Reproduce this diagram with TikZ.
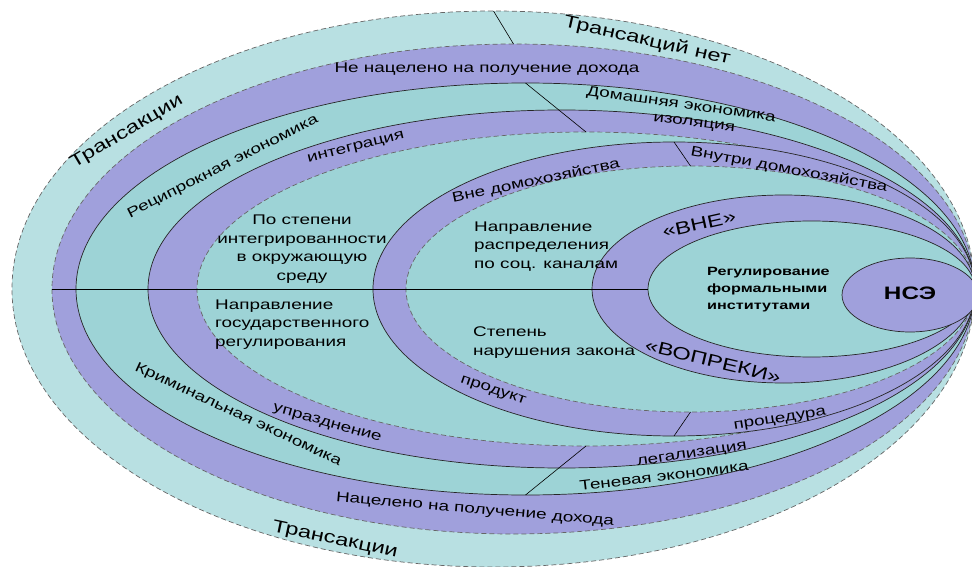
\documentclass[tikz,border=0pt]{standalone}
\usepackage{fontspec}
\setmainfont[FakeStretch=1.35]{Liberation Sans}
\usepackage{tikz}
\usetikzlibrary{positioning,shapes.geometric}
\definecolor{outerband}{RGB}{184,224,226}
\definecolor{lilac}{RGB}{160,160,220}
\definecolor{sea}{RGB}{157,211,214}

\begin{document}
\begin{tikzpicture}[x=1pt,y=1pt,
    ring/.style={ellipse,draw=black!85,line width=0.7pt,inner sep=0pt,outer sep=0pt},
    dashring/.style={ring,draw=black!60,dash pattern=on 5pt off 3pt},
    lbl/.style={font=\fontsize{14}{18.5}\selectfont,inner sep=0pt},
    biglbl/.style={font=\fontsize{17.5}{20}\selectfont,inner sep=0pt}]
    \useasboundingbox (0,0) rectangle (972,566);

    \foreach \n/\cx/\rx/\ry/\col/\sty in {1/493.5/481.5/278/outerband/dashring,
        2/513.5/461.5/245/lilac/dashring, 3/525.5/449.5/206/sea/ring,
        4/561.5/413.5/179/lilac/ring, 5/586/389/157/sea/dashring,
        6/674/301/147/lilac/ring, 7/690.5/284.5/123/sea/dashring,
        8/783.5/191.5/94/lilac/ring, 9/811.5/163.5/68/sea/ring}
        \node[\sty,fill=\col,minimum width=2*\rx pt,minimum height=2*\ry pt] (e\n) at (\cx,277) {};
    \node[ring,fill=lilac,minimum width=136pt,minimum height=74pt] (e10) at (910,271) {};

    \draw[line width=0.7pt] (e2.west) -- (e9.west);
    \draw[line width=0.6pt] (e1.north) -- (e2.north) (e3.north) -- (e5.north)
        (e6.north) -- (e7.north) (e7.south) -- (e6.south) (e5.south) -- (e3.south);

    \node[biglbl,rotate=30.6] (trTop) at (127,434) {Трансакции};
    \node[biglbl,rotate=-12.6] (trNone) at (647,525) {Трансакций нет};
    \node[biglbl,rotate=-11.8] (trBot) at (335,26) {Трансакции};

    \node[lbl] (notProfit) at (487,497) {Не нацелено на получение дохода};
    \node[lbl,rotate=-5] (profit) at (475,56) {Нацелено на получение дохода};
    \node[lbl,rotate=27] (recip) at (223,399) {Реципрокная экономика};
    \node[lbl,rotate=-8] (home) at (681,461) {Домашняя экономика};
    \node[lbl,rotate=-7] (isol) at (694,442) {изоляция};
    \node[lbl,rotate=-25] (crime) at (238,151) {Криминальная экономика};
    \node[lbl,rotate=6.8] (shadow) at (664,90) {Теневая экономика};
    \node[lbl,rotate=8.8] (legal) at (692,111) {легализация};
    \node[lbl,rotate=14] (integr) at (356,418) {интеграция};
    \node[lbl,rotate=-16] (abol) at (327,142) {упразднение};
    \node[lbl,rotate=11.8] (outHome) at (536,385) {Вне домохозяйства};
    \node[lbl,rotate=-10.5] (inHome) at (789,396) {Внутри домохозяйства};
    \node[lbl,rotate=-19] (prod) at (493,175) {продукт};
    \node[lbl,rotate=9] (proc) at (780,146) {процедура};

    \node[lbl,align=center] (degInt) at (302,317) {По степени\\интегрированности\\в окружающую\\среду};
    \node[lbl,align=left,anchor=west] (dirState) at (215,241.5) {Направление\\государственного\\регулирования};
    \node[lbl,align=left,anchor=west] (dirSoc) at (474,319.5) {Направление\\распределения\\по соц. каналам};
    \node[lbl,align=left,anchor=west] (degLaw) at (473,223.5) {Степень\\нарушения закона};

    \node[biglbl,rotate=12.5] (outside) at (699,342) {«ВНЕ»};
    \node[biglbl,rotate=-13.5] (despite) at (713,205) {«ВОПРЕКИ»};
    \node[inner sep=0pt,align=left,anchor=west,font=\fontsize{12}{17}\selectfont\bfseries] (formal) at (707,276) {Регулирование\\формальными\\институтами};
    \node[inner sep=0pt,font=\fontsize{18}{20}\selectfont\bfseries] (nse) at (910,273) {НСЭ};
\end{tikzpicture}
\end{document}
